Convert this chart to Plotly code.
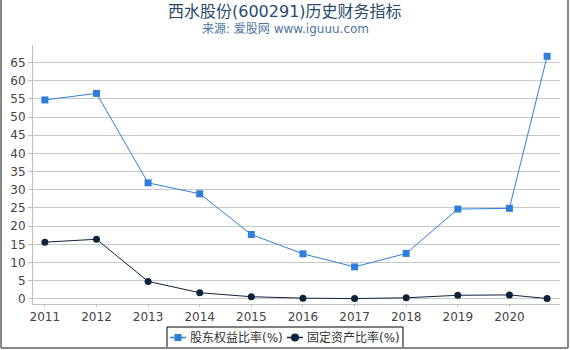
import plotly.graph_objects as go

years = [2011, 2012, 2013, 2014, 2015, 2016, 2017, 2018, 2019, 2020, 2020.73]
tick_vals = [2011, 2012, 2013, 2014, 2015, 2016, 2017, 2018, 2019, 2020]
tick_text = ["2011", "2012", "2013", "2014", "2015", "2016", "2017", "2018", "2019", "2020"]
series_names = ["股东权益比率(%)", "固定资产比率(%)"]
equity_ratio = [54.7, 56.5, 31.9, 28.9, 17.7, 12.4, 8.8, 12.5, 24.7, 24.9, 66.7]
fixed_asset_ratio = [15.6, 16.4, 4.8, 1.7, 0.6, 0.2, 0.1, 0.3, 1.0, 1.1, 0.1]

BLUE, DARK = "#2f7ed8", "#0d233a"

fig = go.Figure()
fig.add_trace(go.Scatter(
    x=years, y=equity_ratio, name=series_names[0], mode="lines+markers",
    line=dict(color=BLUE, width=1),
    marker=dict(symbol="square", size=7, color=BLUE),
))
fig.add_trace(go.Scatter(
    x=years, y=fixed_asset_ratio, name=series_names[1], mode="lines+markers",
    line=dict(color=DARK, width=1),
    marker=dict(symbol="circle", size=7, color=DARK),
))

L, R, T, B = 33, 10, 45, 46
W, H = 570, 350
pw, ph = W - L - R, H - T - B

def py(pix):  # pixel y from top -> paper y
    return (H - B - pix) / ph

def px(pix):
    return (pix - L) / pw

fig.update_layout(
    width=W, height=H,
    margin=dict(l=L, r=R, t=T, b=B, autoexpand=False),
    paper_bgcolor="white", plot_bgcolor="white",
    font=dict(family="DejaVu Sans, Noto Sans CJK SC", size=12, color="#444"),
    xaxis=dict(
        range=[2010.77, 2020.98], tickvals=tick_vals, ticktext=tick_text,
        showgrid=False, zeroline=False, showline=True, linecolor="#c0c0c0", linewidth=1,
        ticks="outside", ticklen=2, tickcolor="#c0c0c0",
        tickfont=dict(size=12, color="#444"),
    ),
    yaxis=dict(
        range=[-1.4, 69.8], tickvals=list(range(0, 70, 5)),
        showgrid=True, gridcolor="#c8c8c8", gridwidth=1, zeroline=False,
        showline=True, linecolor="#c0c0c0", linewidth=1,
        ticks="outside", ticklen=4, tickcolor="#c0c0c0",
        tickfont=dict(size=12, color="#444"),
    ),
    showlegend=False,
)

fig.add_annotation(text="西水股份(600291)历史财务指标", xref="paper", yref="paper",
                   x=px(285), y=py(11), xanchor="center", yanchor="middle", showarrow=False,
                   font=dict(size=16, color="#274b6d"))
fig.add_annotation(text="来源: 爱股网 www.iguuu.com", xref="paper", yref="paper",
                   x=px(285), y=py(29), xanchor="center", yanchor="middle", showarrow=False,
                   font=dict(size=12, color="#4d759e"))

# custom legend
LY = 337.5
fig.add_shape(type="rect", xref="paper", yref="paper",
              x0=px(167), y0=py(327), x1=px(403), y1=py(348),
              line=dict(color="black", width=1), fillcolor="white")
entries = [(170, BLUE, "square", series_names[0]), (287, DARK, "circle", series_names[1])]
for x0, col, sym, name in entries:
    fig.add_shape(type="line", xref="paper", yref="paper",
                  x0=px(x0), y0=py(LY), x1=px(x0 + 16), y1=py(LY),
                  line=dict(color=col, width=1.5))
    cx = x0 + 8
    if sym == "square":
        fig.add_shape(type="rect", xref="paper", yref="paper",
                      x0=px(cx - 3.5), y0=py(LY - 3.5), x1=px(cx + 3.5), y1=py(LY + 3.5),
                      line=dict(width=0), fillcolor=col)
    else:
        fig.add_shape(type="circle", xref="paper", yref="paper",
                      x0=px(cx - 4), y0=py(LY - 4), x1=px(cx + 4), y1=py(LY + 4),
                      line=dict(width=0), fillcolor=col)
    fig.add_annotation(text=name, xref="paper", yref="paper",
                       x=px(x0 + 18), y=py(LY), xanchor="left", yanchor="middle",
                       showarrow=False, font=dict(size=12, color="#333"))

# outer frame (left, right, bottom)
for (xa, ya, xb, yb) in [(1, 0, 1, 348), (568, 0, 568, 348), (1, 348, 568, 348)]:
    fig.add_shape(type="line", xref="paper", yref="paper",
                  x0=px(xa), y0=py(ya), x1=px(xb), y1=py(yb),
                  line=dict(color="#888888", width=2))

fig.write_html("out.html")
